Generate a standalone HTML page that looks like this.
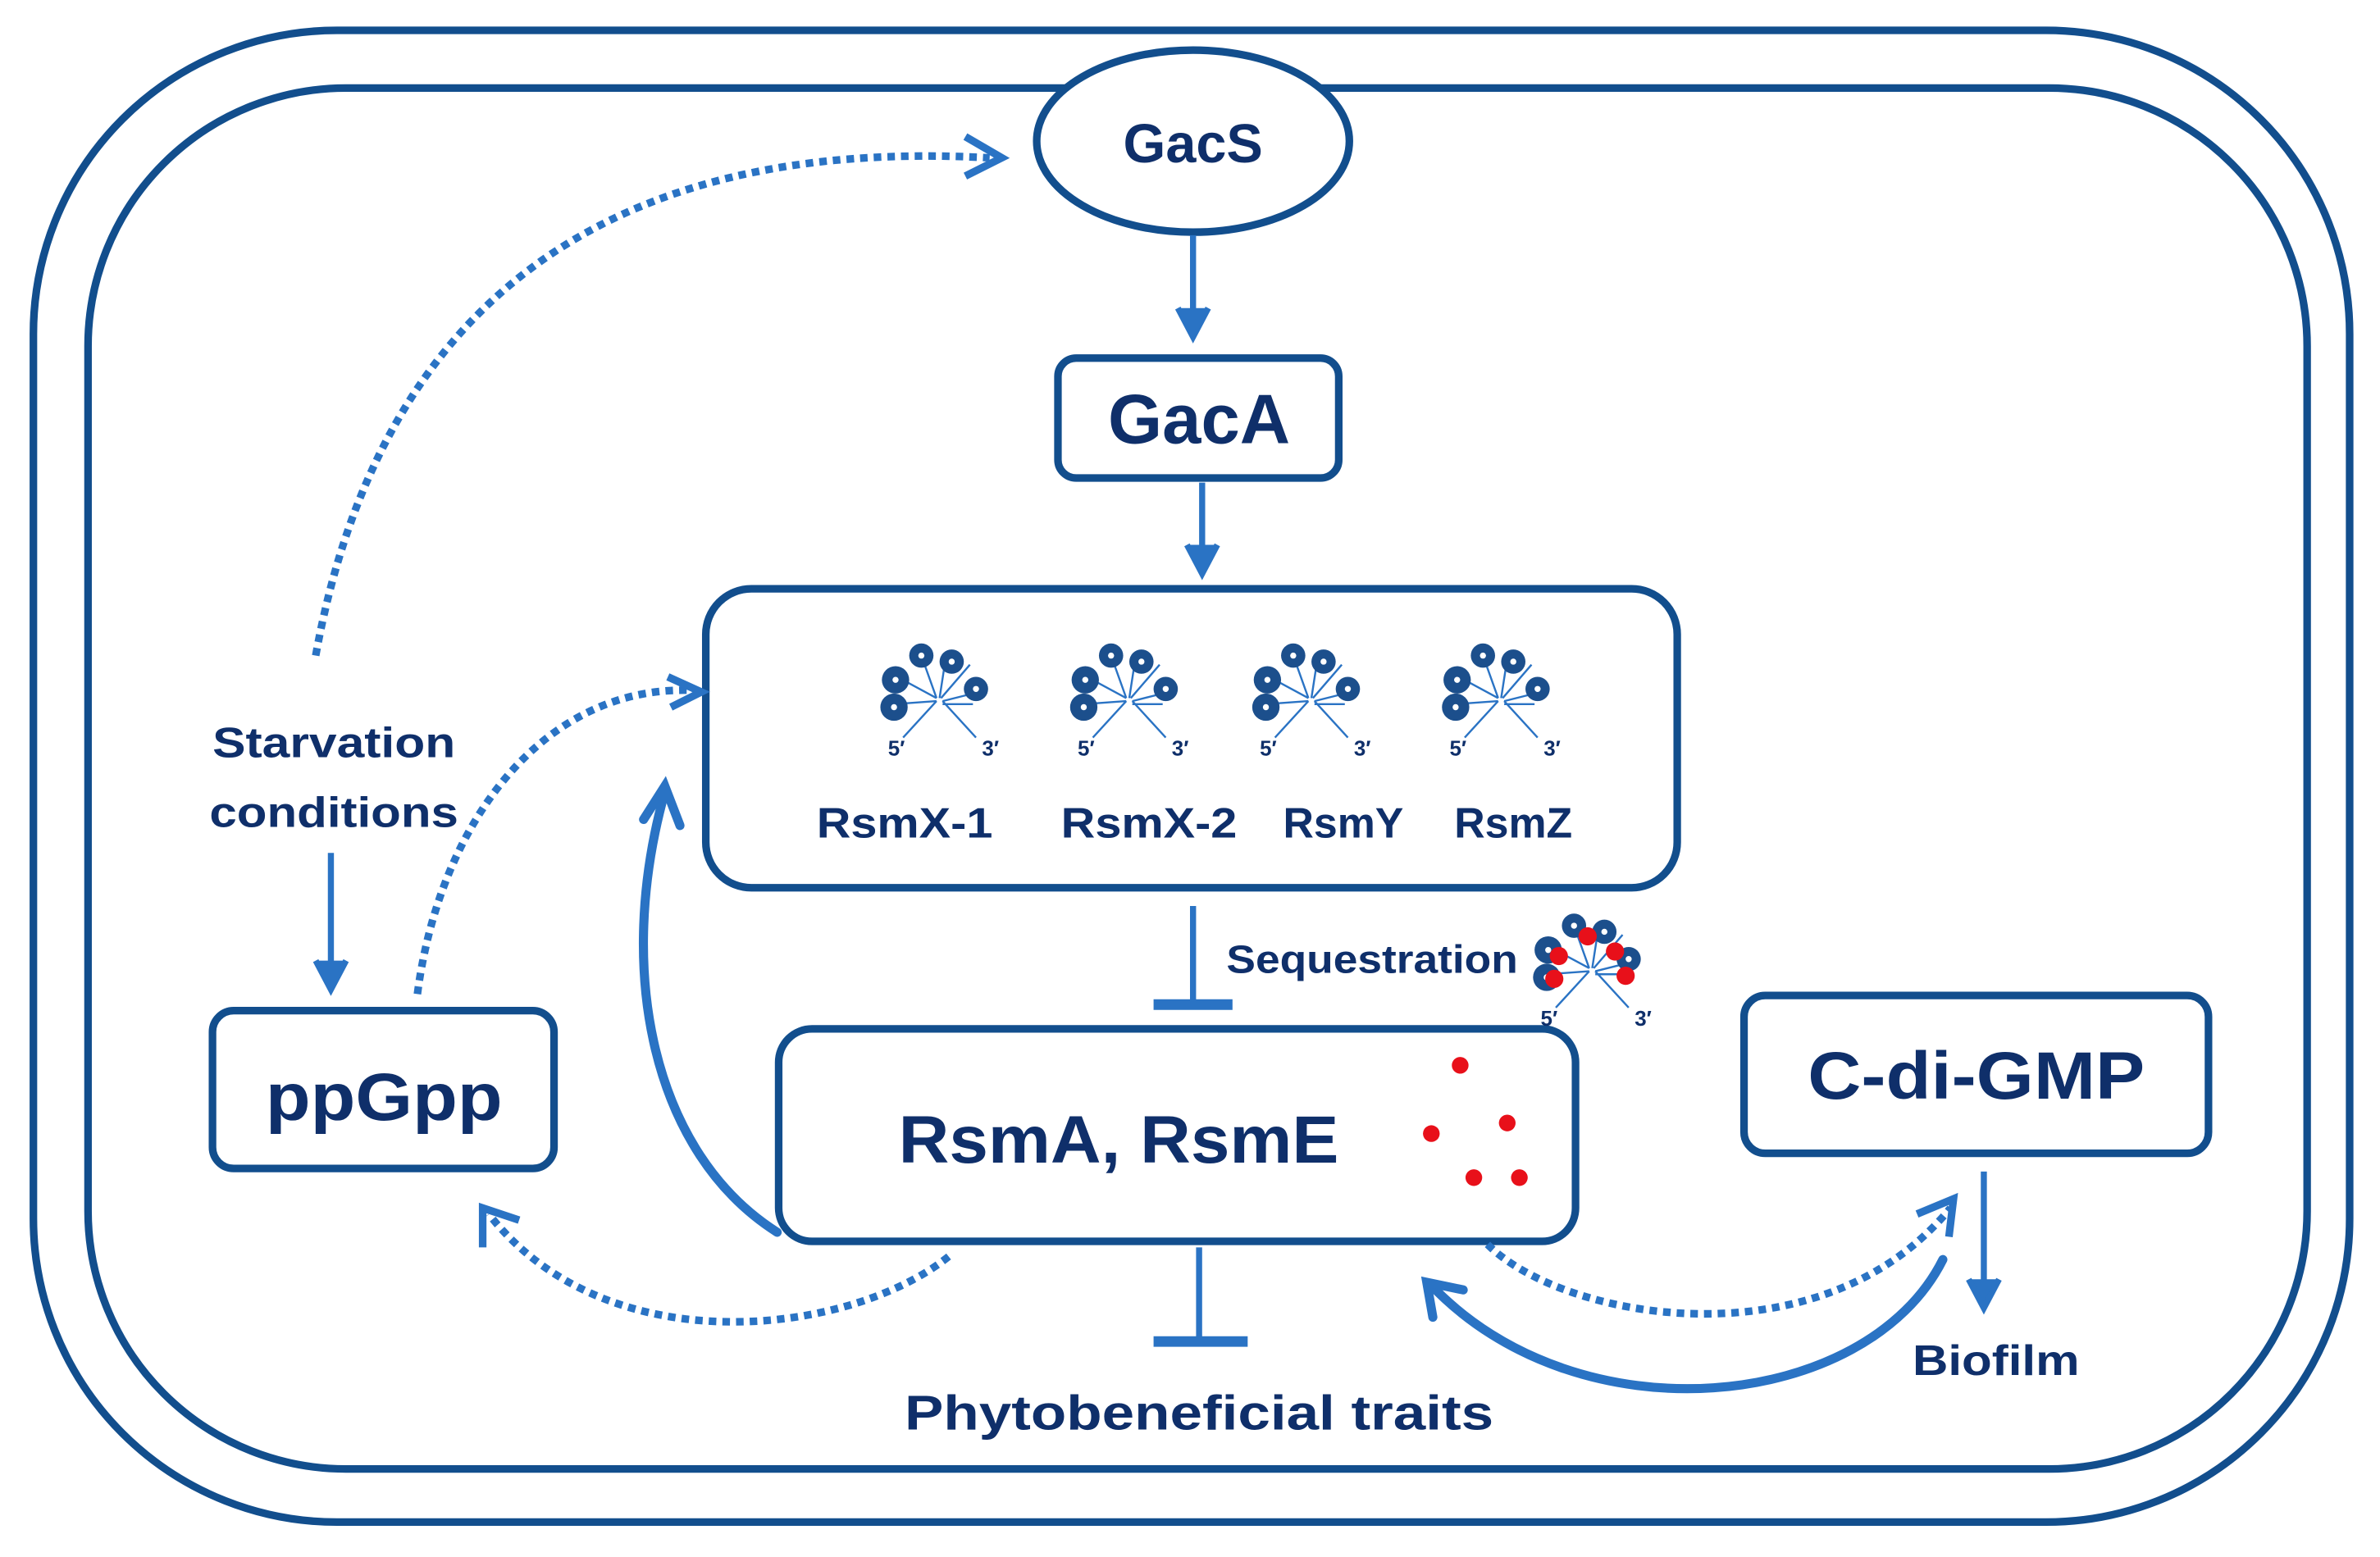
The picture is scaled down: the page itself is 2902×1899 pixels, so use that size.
<!DOCTYPE html>
<html><head><meta charset="utf-8"><style>
html,body{margin:0;padding:0;background:#fff}
svg{display:block}
text{font-family:"Liberation Sans",sans-serif;font-weight:bold;fill:#0f2f6a}
</style></head><body>
<svg width="2902" height="1899" viewBox="0 0 1568 1026" preserveAspectRatio="none" xmlns="http://www.w3.org/2000/svg">
<defs>
<g id="rna">
 <g stroke="#2a73c4" stroke-width="1.3" fill="none">
  <line x1="0" y1="0" x2="-22" y2="24"/><line x1="4" y1="0" x2="26" y2="24"/>
  <line x1="0" y1="0" x2="-28" y2="2"/><line x1="0" y1="-2" x2="-26" y2="-16"/>
  <line x1="0" y1="-2" x2="-10" y2="-30"/><line x1="2" y1="-2" x2="6" y2="-28"/>
  <line x1="3" y1="-2" x2="22" y2="-24"/><line x1="4" y1="0" x2="28" y2="-6"/>
  <line x1="4" y1="2" x2="24" y2="2"/>
 </g>
 <g fill="#1c4f8c">
  <circle cx="-28" cy="4" r="9"/><circle cx="-27" cy="-14" r="9"/>
  <circle cx="-10" cy="-30" r="8"/><circle cx="10" cy="-26" r="8"/>
  <circle cx="26" cy="-8" r="8"/>
 </g>
 <g fill="#fff"><circle cx="-28" cy="4" r="2"/><circle cx="-27" cy="-14" r="2"/><circle cx="-10" cy="-30" r="2"/><circle cx="10" cy="-26" r="2"/><circle cx="26" cy="-8" r="2"/></g>
 <text x="-32" y="36" font-size="14">5′</text><text x="30" y="36" font-size="14">3′</text>
</g>
</defs>
<g fill="none" stroke="#124e8d" stroke-width="5">
 <rect x="22" y="20" width="1526" height="983" rx="200"/>
 <rect x="58" y="58" width="1462" height="910" rx="170"/>
</g>
<g fill="#fff" stroke="#124e8d" stroke-width="5">
 <ellipse cx="786" cy="93" rx="103" ry="60"/>
 <rect x="697" y="236" width="185" height="79" rx="12"/>
 <rect x="465" y="388" width="640" height="197" rx="30"/>
 <rect x="513" y="678" width="525" height="140" rx="22"/>
 <rect x="140" y="666" width="225" height="104" rx="14"/>
 <rect x="1149" y="656" width="306" height="104" rx="14"/>
</g>
<text x="786" y="107" font-size="36" text-anchor="middle">GacS</text>
<text x="790" y="292" font-size="46" text-anchor="middle" textLength="120" lengthAdjust="spacingAndGlyphs">GacA</text>
<text x="737" y="766" font-size="44" text-anchor="middle" textLength="290" lengthAdjust="spacingAndGlyphs">RsmA, RsmE</text>
<text x="253" y="738" font-size="44" text-anchor="middle" textLength="156" lengthAdjust="spacingAndGlyphs">ppGpp</text>
<text x="1302" y="724" font-size="44" text-anchor="middle" textLength="222" lengthAdjust="spacingAndGlyphs">C-di-GMP</text>
<text x="596" y="552" font-size="28" text-anchor="middle" textLength="116" lengthAdjust="spacingAndGlyphs">RsmX-1</text>
<text x="757" y="552" font-size="28" text-anchor="middle" textLength="116" lengthAdjust="spacingAndGlyphs">RsmX-2</text>
<text x="885" y="552" font-size="28" text-anchor="middle">RsmY</text>
<text x="997" y="552" font-size="28" text-anchor="middle">RsmZ</text>
<text x="808" y="641" font-size="26" textLength="192" lengthAdjust="spacingAndGlyphs">Sequestration</text>
<text x="220" y="499" font-size="28" text-anchor="middle" textLength="160" lengthAdjust="spacingAndGlyphs">Starvation</text>
<text x="220" y="545" font-size="28" text-anchor="middle" textLength="164" lengthAdjust="spacingAndGlyphs">conditions</text>
<text x="790" y="942" font-size="32" text-anchor="middle" textLength="388" lengthAdjust="spacingAndGlyphs">Phytobeneficial traits</text>
<text x="1315" y="906" font-size="28" text-anchor="middle" textLength="110" lengthAdjust="spacingAndGlyphs">Biofilm</text>
<use href="#rna" x="617" y="462"/><use href="#rna" x="742" y="462"/><use href="#rna" x="862" y="462"/><use href="#rna" x="987" y="462"/>
<use href="#rna" x="1047" y="640"/>
<g fill="#e8101a">
 <circle cx="1027" cy="630" r="6"/><circle cx="1046" cy="617" r="6"/><circle cx="1064" cy="627" r="6"/><circle cx="1071" cy="643" r="6"/><circle cx="1024" cy="645" r="6"/>
 <circle cx="962" cy="702" r="5.5"/><circle cx="943" cy="747" r="5.5"/><circle cx="993" cy="740" r="5.5"/><circle cx="971" cy="776" r="5.5"/><circle cx="1001" cy="776" r="5.5"/>
</g>
<g stroke="#2a73c4" stroke-width="4" fill="none">
 <line x1="786" y1="155" x2="786" y2="220"/><path d="M776 203 L786 222 L796 203" fill="#2a73c4"/>
 <line x1="792" y1="318" x2="792" y2="376"/><path d="M782 359 L792 378 L802 359" fill="#2a73c4"/>
 <line x1="218" y1="562" x2="218" y2="650"/><path d="M208 633 L218 652 L228 633" fill="#2a73c4"/>
 <line x1="1307" y1="772" x2="1307" y2="860"/><path d="M1297 843 L1307 862 L1317 843" fill="#2a73c4"/>
 <line x1="786" y1="597" x2="786" y2="662"/><line x1="760" y1="662" x2="812" y2="662" stroke-width="7"/>
 <line x1="790" y1="822" x2="790" y2="884"/><line x1="760" y1="884" x2="822" y2="884" stroke-width="7"/>
</g>
<g stroke="#2a73c4" stroke-width="6" fill="none" stroke-linecap="round">
 <path d="M512 812 C430 760 405 640 438 522"/><path d="M424 540 L438 518 L448 544"/>
 <path d="M1280 830 C1230 930 1040 950 942 846"/><path d="M944 868 L940 845 L964 850"/>
</g>
<g stroke="#2a73c4" stroke-width="5" fill="none" stroke-dasharray="5 4">
 <path d="M208 432 C250 200 400 90 652 104"/>
 <path d="M275 655 C290 540 360 450 458 455"/>
 <path d="M625 828 C560 880 400 900 322 800"/>
 <path d="M980 820 C1030 870 1200 900 1285 796"/>
</g>
<g stroke="#2a73c4" stroke-width="5" fill="none">
 <path d="M636 90 L660 104 L636 116"/>
 <path d="M440 446 L462 456 L442 466"/>
 <path d="M318 822 L318 796 L342 804"/>
 <path d="M1263 800 L1287 790 L1284 815"/>
</g>
</svg>
</body></html>
